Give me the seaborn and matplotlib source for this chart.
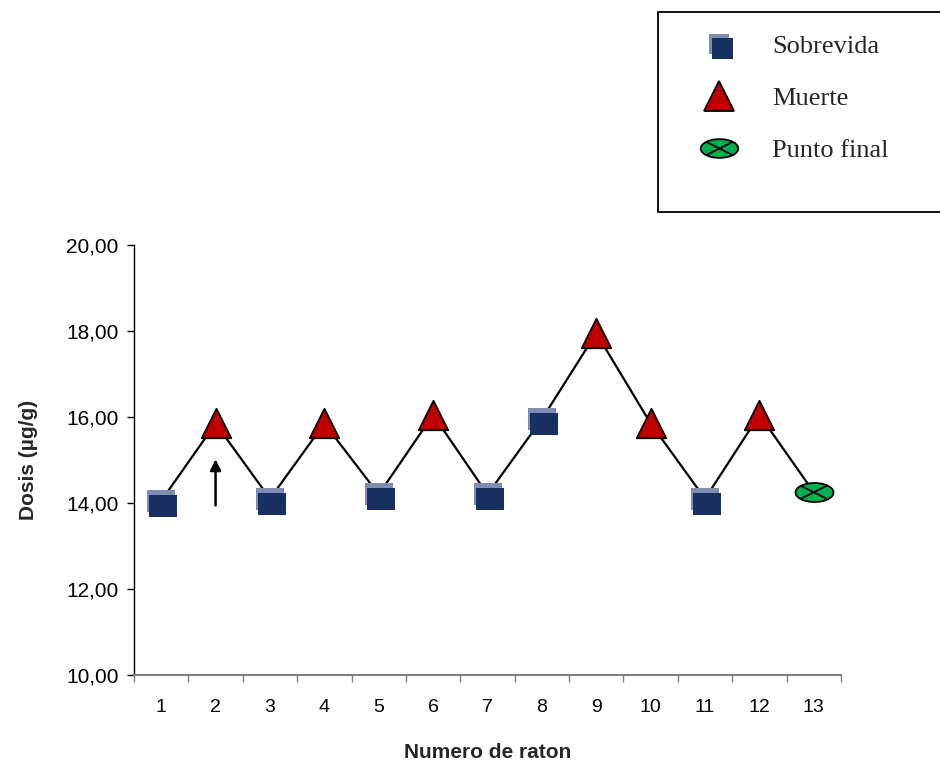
import numpy as np
import matplotlib.pyplot as plt
import matplotlib.transforms as mtransforms
from matplotlib.lines import Line2D
from matplotlib.patches import Rectangle
from matplotlib.path import Path
from matplotlib.legend_handler import HandlerTuple
import pandas as pd
import seaborn as sns

# Datos (dosis por raton)
raton = list(range(1, 14))
dosis = [14.05, 15.85, 14.10, 15.85, 14.20, 16.05, 14.20, 15.95, 17.95, 15.85, 14.10, 16.05, 14.25]
resultado = ["Sobrevida", "Muerte", "Sobrevida", "Muerte", "Sobrevida", "Muerte", "Sobrevida",
             "Sobrevida", "Muerte", "Muerte", "Sobrevida", "Muerte", "Punto final"]
y_ticks = [10, 12, 14, 16, 18, 20]

df = pd.DataFrame({"raton": raton, "dosis": dosis, "resultado": resultado})

sns.set_theme(style="white")
plt.rcParams["font.family"] = ["Liberation Sans", "DejaVu Sans"]

# marcador elipse con una X (punto final)
t = np.linspace(0, 2 * np.pi, 80)
elipse = Path(np.column_stack([np.cos(t), 0.5 * np.sin(t)]), closed=True)
c = 0.707
cruz = Path([(1, 0), (-c, -0.5 * c), (c, 0.5 * c), (-c, 0.5 * c), (c, -0.5 * c)],
            [Path.MOVETO, Path.MOVETO, Path.LINETO, Path.MOVETO, Path.LINETO])
# cuadrado algo ancho, como en el original
rect = Path([(-0.5, -0.41), (0.5, -0.41), (0.5, 0.41), (-0.5, 0.41), (-0.5, -0.41)], closed=True)


def cuadro(dx, dy):
    # cuadrado desplazado, con un punto fijo para que la escala sea la misma
    v = [(0.7, 0.7)] + [(x + dx, y + dy) for x, y in [(-0.5, -0.5), (0.5, -0.5), (0.5, 0.5), (-0.5, 0.5), (-0.5, -0.5)]]
    return Path(v, [Path.MOVETO, Path.MOVETO, Path.LINETO, Path.LINETO, Path.LINETO, Path.CLOSEPOLY])


claro = "#7F8DB3"
oscuro = "#17305F"
rojo = "#C00000"
verde = "#00B050"

fig = plt.figure(figsize=(9.4, 7.67), dpi=100)
ax = fig.add_axes([134 / 940, 1 - 675 / 767, (841 - 134) / 940, (675 - 245) / 767])

sns.lineplot(data=df, x="raton", y="dosis", color="black", linewidth=1.6, sort=False, ax=ax, zorder=2)

sob = df[df.resultado == "Sobrevida"]
mue = df[df.resultado == "Muerte"]
fin = df[df.resultado == "Punto final"]

sns.scatterplot(data=sob, x="raton", y="dosis", marker=rect, s=380, color=claro, linewidth=0, ax=ax, zorder=3)
desplaza = ax.transData + mtransforms.ScaledTranslation(2 / 100, -5 / 100, fig.dpi_scale_trans)
ax.scatter(sob.raton, sob.dosis, marker=rect, s=380, color=oscuro, linewidth=0, zorder=4, transform=desplaza)

sns.scatterplot(data=mue, x="raton", y="dosis", marker="^", s=450, color=rojo,
                edgecolor="black", linewidth=1.3, ax=ax, zorder=5)
sns.scatterplot(data=fin, x="raton", y="dosis", marker=elipse, s=750, color=verde,
                edgecolor="black", linewidth=1.3, ax=ax, zorder=5)
ax.scatter(fin.raton, fin.dosis, marker=cruz, s=750, facecolors="none", edgecolors="black",
           linewidths=1.3, zorder=6)

# flecha en el raton 2
ax.annotate("", xy=(2, 15.08), xytext=(2, 13.88),
            arrowprops=dict(arrowstyle="-|>", color="black", lw=1.8, mutation_scale=16))

ax.set_xlim(0.5, 13.5)
ax.set_ylim(10, 20)
ax.set_xticks(raton)
ax.set_xticklabels([str(r) for r in raton])
ax.set_xticks(np.arange(0.5, 14, 1), minor=True)
ax.set_yticks(y_ticks)
ax.set_yticklabels([f"{v:.2f}".replace(".", ",") for v in y_ticks])

ax.tick_params(axis="x", which="major", length=0, pad=17, labelsize=14, colors="black")
ax.tick_params(axis="x", which="minor", length=5, width=1, direction="out", color="#808080", bottom=True)
ax.tick_params(axis="y", length=5, width=1, direction="out", labelsize=15, pad=6, colors="black", left=True)

for lado in ["top", "right"]:
    ax.spines[lado].set_visible(False)
ax.spines["left"].set_color("black")
ax.spines["left"].set_linewidth(1)
ax.spines["bottom"].set_color("#808080")
ax.spines["bottom"].set_linewidth(1.5)

ax.set_xlabel("Numero de raton", fontsize=15, fontweight="bold", labelpad=20)
ax.set_ylabel("Dosis (µg/g)", fontsize=15, fontweight="bold", labelpad=20)

# leyenda con marco que sale del borde derecho
fig.patches.append(Rectangle((658 / 940, 1 - 212 / 767), 0.5, 200 / 767, transform=fig.transFigure,
                             facecolor="white", edgecolor="black", linewidth=1.3, zorder=0))
h_sob = (Line2D([], [], ls="none", marker=cuadro(0, 0), markersize=21, color=claro, markeredgewidth=0),
         Line2D([], [], ls="none", marker=cuadro(0.15, -0.2), markersize=21, color=oscuro, markeredgewidth=0))
h_mue = Line2D([], [], ls="none", marker="^", markersize=21, markerfacecolor=rojo,
               markeredgecolor="black", markeredgewidth=1.3)
h_fin = (Line2D([], [], ls="none", marker=elipse, markersize=27, markerfacecolor=verde,
                markeredgecolor="black", markeredgewidth=1.3),
         Line2D([], [], ls="none", marker=cruz, markersize=27, markerfacecolor="none",
                markeredgecolor="black", markeredgewidth=1.3))
fig.legend([h_sob, h_mue, h_fin], ["Sobrevida", "Muerte", "Punto final"],
           handler_map={tuple: HandlerTuple(ndivide=1, pad=0)},
           loc="upper left", bbox_to_anchor=(693 / 940, 1 - 35 / 767), frameon=False,
           prop={"family": "Liberation Serif", "size": 19}, handlelength=2, handletextpad=1.0,
           labelspacing=1.08, borderpad=0, borderaxespad=0)

fig.savefig("out.png", dpi=100)
